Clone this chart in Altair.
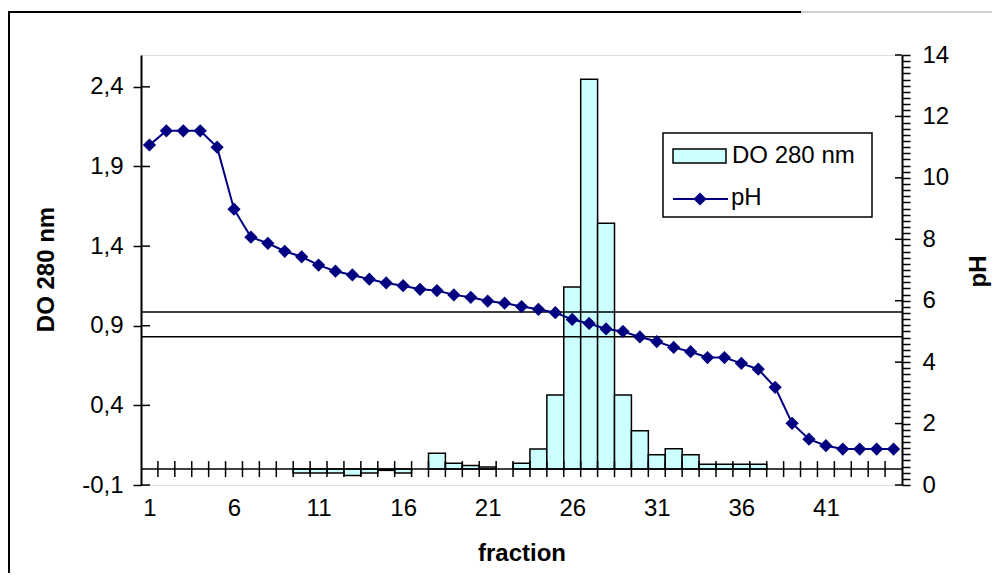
import altair as alt
import pandas as pd

# ---------------- data ----------------
fractions = list(range(1, 46))
ph_values = [11.07, 11.53, 11.53, 11.53, 11.0, 8.98, 8.07, 7.87, 7.61, 7.43,
             7.16, 6.96, 6.84, 6.70, 6.58, 6.49, 6.37, 6.33, 6.19, 6.11,
             5.99, 5.92, 5.81, 5.72, 5.61, 5.39, 5.26, 5.08, 5.00, 4.82,
             4.67, 4.48, 4.34, 4.15, 4.15, 3.96, 3.77, 3.18, 2.01, 1.49,
             1.28, 1.17, 1.17, 1.17, 1.17]
do_fractions = list(range(10, 38))
do_values = [-0.025, -0.025, -0.025, -0.04, -0.025, -0.008, -0.025, None,
             0.10, 0.036, 0.023, 0.013, None, 0.036, 0.126, 0.465, 1.143,
             2.448, 1.544, 0.465, 0.24, 0.09, 0.128, 0.09, 0.03, 0.03, 0.03, 0.03]
do_ticks = [-0.1, 0.4, 0.9, 1.4, 1.9, 2.4]
ph_major = [0, 2, 4, 6, 8, 10, 12, 14]
ph_minor = [round(i * 0.2, 1) for i in range(0, 71)]
x_labels = [1, 6, 11, 16, 21, 26, 31, 36, 41]
ref_lines_ph = [5.63, 4.83]
legend_labels = ["DO 280 nm", "pH"]

# ---------------- style ----------------
W, H = 761, 430
FONT = "Liberation Sans"
NAVY = "#000080"
CYAN = "#CCFFFF"

x_scale = alt.Scale(domain=[0.5, 45.5], nice=False, zero=False)
do_scale = alt.Scale(domain=[-0.1, 2.6], nice=False, zero=False)
ph_scale = alt.Scale(domain=[0, 14], nice=False, zero=False)

do_df = pd.DataFrame({"fraction": do_fractions, "do": do_values}).dropna()
ph_df = pd.DataFrame({"fraction": fractions, "ph": ph_values})
bound_df = pd.DataFrame({"b": [f + 0.5 for f in fractions[:-1]]})
do_tick_df = pd.DataFrame({"do": do_ticks})
ph_major_df = pd.DataFrame({"ph": ph_major})
ref_df = pd.DataFrame({"ph": ref_lines_ph})

# ---------------- axes ----------------
left_axis = alt.Axis(
    orient="left", values=do_ticks,
    labelExpr="(datum.value < 0 ? '-' : '') + replace(format(abs(datum.value), '.1f'), '.', ',')",
    title="DO 280 nm", titleFont=FONT, titleFontSize=24, titleFontWeight="bold",
    titleColor="black", titleX=-88, titleY=214, titleAngle=-90, titleAlign="center",
    titleBaseline="alphabetic",
    labelFont=FONT, labelFontSize=24, labelColor="black", labelPadding=10,
    labelBaseline="middle", labelOverlap=False,
    tickSize=8, tickColor="black", tickWidth=1.5,
    domainColor="black", domainWidth=2, grid=False,
)
x_axis = alt.Axis(
    orient="bottom", values=x_labels, format="d",
    title="fraction", titleFont=FONT, titleFontSize=24, titleFontWeight="bold",
    titleColor="black", titleY=75, titleBaseline="alphabetic",
    labelFont=FONT, labelFontSize=24, labelColor="black", labelPadding=30,
    labelBaseline="alphabetic", labelOverlap=False,
    ticks=False, tickSize=0, domain=False, grid=False,
)
right_axis = alt.Axis(
    orient="right", values=ph_minor,
    labelExpr="abs(datum.value - 2*round(datum.value/2)) < 0.01 ? format(datum.value, 'd') : ''",
    title="pH", titleFont=FONT, titleFontSize=24, titleFontWeight="bold",
    titleColor="black", titleX=83, titleY=216, titleAngle=-90, titleAlign="center",
    titleBaseline="alphabetic",
    labelFont=FONT, labelFontSize=24, labelColor="black", labelPadding=12,
    labelBaseline="middle", labelOverlap=False, labelAlign="left",
    tickSize=8, tickColor="black", tickWidth=1.5,
    domainColor="black", domainWidth=2, grid=False,
)

# ---------------- DO layer (left axis) ----------------
bars = alt.Chart(do_df).transform_calculate(
    x0="datum.fraction - 0.5", x1="datum.fraction + 0.5", base="0"
).mark_rect(fill=CYAN, stroke="black", strokeWidth=1.5).encode(
    x=alt.X("x0:Q", scale=x_scale, axis=x_axis),
    x2="x1:Q",
    y=alt.Y("base:Q", scale=do_scale, axis=left_axis),
    y2="do:Q",
)

zero_line = alt.Chart(alt.Data(values=[{"zero": 0}])).mark_rule(
    color="black", strokeWidth=1.5
).encode(
    x=alt.value(0), x2=alt.value(W),
    y=alt.Y("zero:Q", scale=do_scale, axis=left_axis),
)

cat_ticks = alt.Chart(bound_df).transform_calculate(zero="0").mark_tick(
    orient="vertical", size=16, thickness=1.5, color="black", opacity=1
).encode(
    x=alt.X("b:Q", scale=x_scale, axis=x_axis),
    y=alt.Y("zero:Q", scale=do_scale, axis=left_axis),
)

left_inner = alt.Chart(do_tick_df).mark_rule(color="black", strokeWidth=1.5).encode(
    x=alt.value(0), x2=alt.value(9),
    y=alt.Y("do:Q", scale=do_scale, axis=left_axis),
)

do_layer = alt.layer(bars, zero_line, cat_ticks, left_inner)

# ---------------- pH layer (right axis) ----------------
ph_line = alt.Chart(ph_df).mark_line(color=NAVY, strokeWidth=2).encode(
    x=alt.X("fraction:Q", scale=x_scale, axis=x_axis),
    y=alt.Y("ph:Q", scale=ph_scale, axis=right_axis),
)
ph_pts = alt.Chart(ph_df).mark_point(
    shape="diamond", filled=True, color=NAVY, size=175, opacity=1
).encode(
    x=alt.X("fraction:Q", scale=x_scale, axis=x_axis),
    y=alt.Y("ph:Q", scale=ph_scale, axis=right_axis),
)
ref_rules = alt.Chart(ref_df).mark_rule(color="black", strokeWidth=1.5).encode(
    x=alt.value(0), x2=alt.value(W),
    y=alt.Y("ph:Q", scale=ph_scale, axis=right_axis),
)
right_inner = alt.Chart(ph_major_df).mark_rule(color="black", strokeWidth=1.5).encode(
    x=alt.value(W - 7), x2=alt.value(W),
    y=alt.Y("ph:Q", scale=ph_scale, axis=right_axis),
)

ph_layer = alt.layer(ref_rules, ph_line, ph_pts, right_inner)

# ---------------- decorations: legend & frame ----------------
one = alt.Data(values=[{"k": 1}])
frame_top = alt.Chart(one).mark_rule(color="black", strokeWidth=2).encode(
    x=alt.value(-133), x2=alt.value(660), y=alt.value(-43))
frame_top_grey = alt.Chart(one).mark_rule(color="#a0a0a0", strokeWidth=1).encode(
    x=alt.value(660), x2=alt.value(870), y=alt.value(-43))
frame_left = alt.Chart(one).mark_rule(color="black", strokeWidth=2).encode(
    x=alt.value(-132), y=alt.value(-43), y2=alt.value(H + 120))

leg_box = alt.Chart(one).mark_rect(fill="white", stroke="black", strokeWidth=1.5).encode(
    x=alt.value(522), x2=alt.value(731), y=alt.value(78), y2=alt.value(162))
leg_rect = alt.Chart(one).mark_rect(fill=CYAN, stroke="black", strokeWidth=1.5).encode(
    x=alt.value(532), x2=alt.value(585), y=alt.value(94), y2=alt.value(108))
leg_text1 = alt.Chart(one).mark_text(
    align="left", baseline="alphabetic", font=FONT, fontSize=24, color="black"
).encode(x=alt.value(591), y=alt.value(108), text=alt.value(legend_labels[0]))
leg_line = alt.Chart(one).mark_rule(color=NAVY, strokeWidth=2).encode(
    x=alt.value(532), x2=alt.value(587), y=alt.value(144))
leg_pt = alt.Chart(one).mark_point(shape="diamond", filled=True, color=NAVY, size=175, opacity=1).encode(
    x=alt.value(559), y=alt.value(144))
leg_text2 = alt.Chart(one).mark_text(
    align="left", baseline="alphabetic", font=FONT, fontSize=24, color="black"
).encode(x=alt.value(590), y=alt.value(150), text=alt.value(legend_labels[1]))

deco = alt.layer(frame_top, frame_top_grey, frame_left,
                 leg_box, leg_rect, leg_text1, leg_line, leg_pt, leg_text2)

chart = alt.layer(do_layer, ph_layer, deco).resolve_scale(
    y="independent"
).properties(
    width=W, height=H,
    padding={"left": 133, "top": 47, "right": 90, "bottom": 88},
    autosize=alt.AutoSizeParams(type="none"),
).configure_view(
    stroke="#909090", strokeWidth=2
).configure(
    background="white"
)

chart.save("out.html", embed_options={"renderer": "svg", "actions": False})
